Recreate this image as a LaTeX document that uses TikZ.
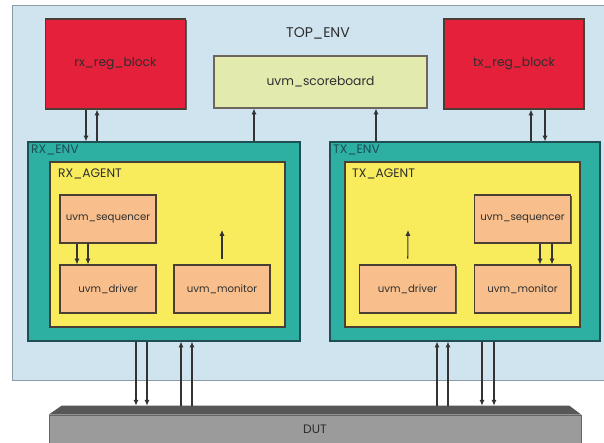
\documentclass[tikz,border=0pt]{standalone}
\usepackage{fontspec}
\setmainfont{Poppins}
\usepackage{xcolor}
\usetikzlibrary{arrows.meta, positioning, calc, shadows}
\definecolor{envbg}{HTML}{CFE4EF}
\definecolor{envstroke}{HTML}{8C9CA6}
\definecolor{regred}{HTML}{E4203B}
\definecolor{sbgreen}{HTML}{E2EAAE}
\definecolor{envteal}{HTML}{2DAFA2}
\definecolor{tealstroke}{HTML}{1D4F55}
\definecolor{agentyel}{HTML}{F8EB5C}
\definecolor{compbg}{HTML}{F8BF8C}
\definecolor{darkline}{HTML}{4A3F35}
\definecolor{dutgray}{HTML}{9B9B9B}
\definecolor{duttop}{HTML}{575757}
\definecolor{txtgray}{HTML}{2E2E2E}

\begin{document}
\begin{tikzpicture}[x=0.03cm, y=-0.03cm,
    every node/.style={font=\fontsize{10.5}{12}\selectfont, text=txtgray},
    shade/.style={drop shadow={shadow xshift=1pt, shadow yshift=-1pt, fill=black!75, opacity=0.8}},
    topbox/.style={rectangle, draw=envstroke, fill=envbg, line width=0.8pt, inner sep=0pt},
    regblk/.style={rectangle, shade, draw=darkline, fill=regred, line width=1pt, minimum width=4.2cm, minimum height=2.7cm},
    sbblk/.style={rectangle, shade, draw=darkline!80, fill=sbgreen, line width=1pt, minimum width=6.39cm, minimum height=1.56cm},
    envblk/.style={rectangle, shade, draw=tealstroke, fill=envteal, line width=1pt, minimum width=8.1cm, minimum height=5.97cm},
    agentblk/.style={rectangle, shade, draw=darkline, fill=agentyel, line width=1pt, minimum width=7.05cm, minimum height=4.95cm},
    comp/.style={rectangle, shade, draw=darkline, fill=compbg, line width=1pt, minimum width=2.88cm, minimum height=1.44cm, inner sep=1pt, font=\fontsize{8.7}{10}\selectfont},
    lbl/.style={anchor=west, inner sep=0pt},
    arr/.style={-{Latex[length=5pt, width=4.5pt]}, line width=0.9pt, draw=black!80}
]
\useasboundingbox (0,0) rectangle (604,443);

% environment frame
\node[topbox, minimum width=17.82cm, minimum height=11.25cm] (topenv) at (309,192.5) {};
\node[font=\fontsize{12}{14}\selectfont] (toplbl) at (318,33) {TOP\_ENV};

\node[regblk] (rxreg) at (115.5,64) {\raisebox{4pt}{rx\_reg\_block}};
\node[sbblk] (sb) at (320.5,82) {uvm\_scoreboard};
\node[regblk] (txreg) at (514,64) {\raisebox{4pt}{tx\_reg\_block}};

% rx side
\node[envblk, minimum width=8.16cm] (rxenv) at (164,241.5) {};
\node[lbl, text=tealstroke] (rxenvlbl) at (31,150) {RX\_ENV};
\node[agentblk] (rxagent) at (167.5,244.5) {};
\node[lbl] (rxagentlbl) at (58,174) {RX\_AGENT};
\node[comp] (rxseq) at (108,219) {uvm\_sequencer};
\node[comp] (rxdrv) at (108,289) {uvm\_driver};
\node[comp] (rxmon) at (222,289) {uvm\_monitor};
\coordinate (rxmonout) at (222,230);

% tx side
\node[envblk] (txenv) at (465,241.5) {};
\node[lbl, text=tealstroke] (txenvlbl) at (333,150) {TX\_ENV};
\node[agentblk] (txagent) at (462.5,244.5) {};
\node[lbl] (txagentlbl) at (352,174) {TX\_AGENT};
\node[comp] (txseq) at (522.5,219) {uvm\_sequencer};
\node[comp] (txdrv) at (407.5,289) {uvm\_driver};
\node[comp] (txmon) at (522.5,289) {uvm\_monitor};
\coordinate (txdrvout) at (408,230);

% DUT bar with bevelled top
\node[rectangle, draw=black!60, fill=dutgray, line width=0.6pt, minimum width=15.96cm, minimum height=0.84cm] (dut) at (315,429) {DUT};
\fill[duttop] (dut.north west) -- ++(13,-9) -- ($(dut.north east)+(-12,-9)$) -- (dut.north east) -- cycle;
\coordinate (dutin) at ($(dut.north)+(0,-9)$);

% reg blocks and scoreboard
\draw[arr] (86,0 |- rxreg.south) -- (86,0 |- rxenv.north);
\draw[arr] (97,0 |- rxenv.north) -- (97,0 |- rxreg.south);
\draw[arr] (254,0 |- rxenv.north) -- (254,0 |- sb.south);
\draw[arr] (376,0 |- txenv.north) -- (376,0 |- sb.south);
\draw[arr] (531,0 |- txenv.north) -- (531,0 |- txreg.south);
\draw[arr] (545,0 |- txreg.south) -- (545,0 |- txenv.north);

% inside the agents
\draw[arr] (77,0 |- rxseq.south) -- (77,0 |- rxdrv.north);
\draw[arr] (88,0 |- rxseq.south) -- (88,0 |- rxdrv.north);
\draw[arr, shorten <=5pt] (rxmon) -- (rxmonout);
\draw[arr] (540,0 |- txseq.south) -- (540,0 |- txmon.north);
\draw[arr] (552,0 |- txseq.south) -- (552,0 |- txmon.north);
\draw[arr, shorten <=5pt] (txdrv) -- (txdrvout);

% pins to the DUT
\foreach \px in {136,147} \draw[arr] (\px,0 |- rxenv.south) -- (\px,0 |- dutin);
\foreach \px in {181,192} \draw[arr] (\px,0 |- dutin) -- (\px,0 |- rxenv.south);
\foreach \px in {437,448} \draw[arr] (\px,0 |- dutin) -- (\px,0 |- txenv.south);
\foreach \px in {482,494} \draw[arr] (\px,0 |- txenv.south) -- (\px,0 |- dutin);
\end{tikzpicture}
\end{document}
